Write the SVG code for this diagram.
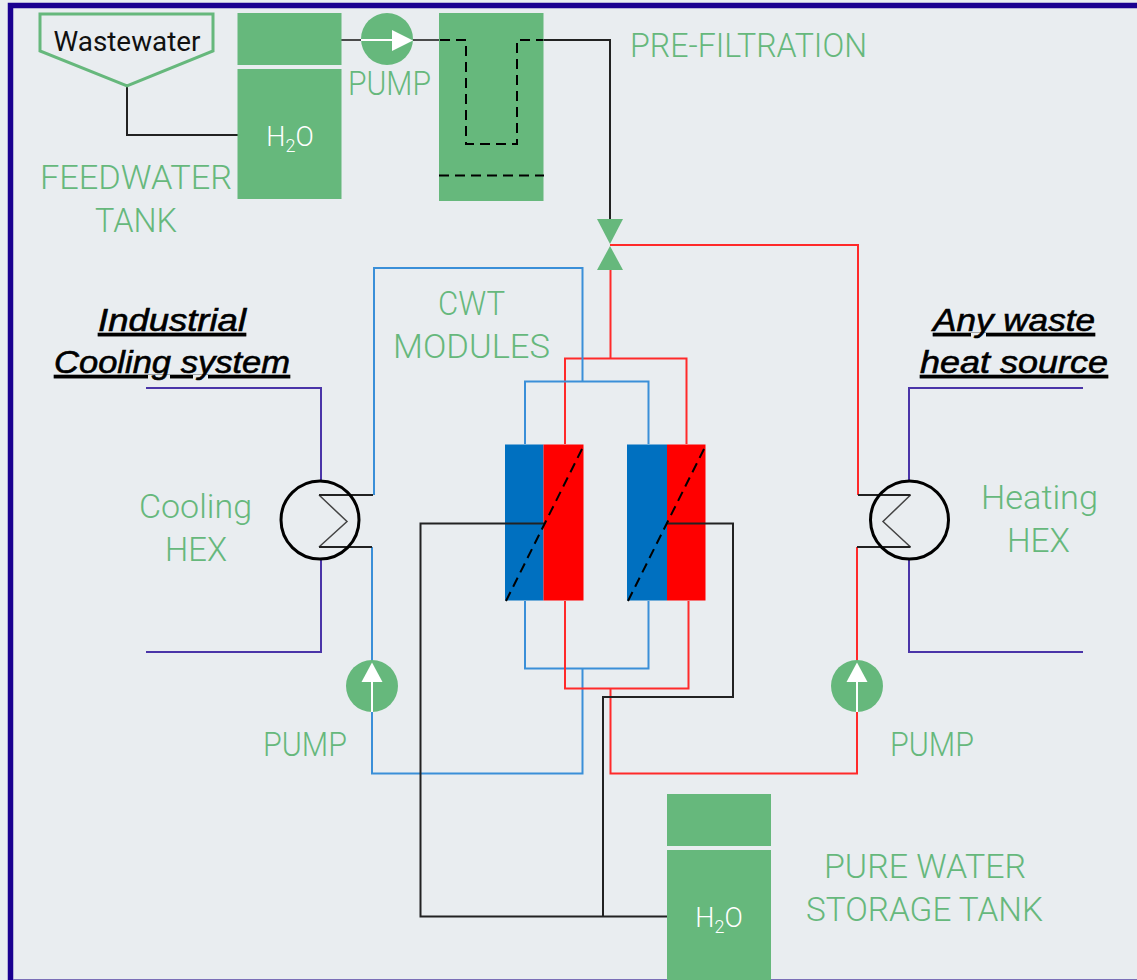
<svg xmlns="http://www.w3.org/2000/svg" width="1137" height="980" viewBox="0 0 1137 980">
<style>
.fill{fill:#66b87c}
.lbl{font-family:Roboto,"Liberation Sans",sans-serif;font-weight:300;font-size:33px;fill:#66b87c;text-anchor:middle}
.h2o{font-family:Roboto,"Liberation Sans",sans-serif;font-weight:300;font-size:27px;fill:#fff;text-anchor:middle}
.hd{font-family:"Liberation Sans",Arial,sans-serif;font-style:italic;font-size:31px;fill:#000;stroke:#000;stroke-width:.6;text-anchor:middle;text-decoration:underline}
.l{fill:none;stroke-width:2}
.k{stroke:#222}.b{stroke:#3a8fd8}.r{stroke:#ff2a2a}.p{stroke:#4a35a8}
.d{fill:none;stroke:#000;stroke-width:2;stroke-dasharray:10 6}
.hx{fill:none;stroke:#000;stroke-width:3}
.zz{fill:none;stroke:#444;stroke-width:1.500}
.w{stroke:#fff;stroke-width:2;fill:none}
.t{fill:#fff}
</style>
<rect width="1137" height="980" fill="#e9edf0"/>
<path d="M10.500 980V5.500H1137" fill="none" stroke="#1a0090" stroke-width="5.500"/>
<path d="M13 979.500H1137" fill="none" stroke="#7a6fb8" stroke-width="1"/>
<g id="module-1">
<rect x="505" y="444.500" width="38.500" height="156" fill="#0070c0"/>
<rect x="543.500" y="444.500" width="40" height="156" fill="#f00"/>
</g>
<g id="module-2">
<rect x="627" y="444.500" width="40" height="156" fill="#0070c0"/>
<rect x="667" y="444.500" width="38.500" height="156" fill="#f00"/>
</g>
<g id="connectors">
<path class="l k" d="M127 86V135H238"/>
<path class="l k" stroke-opacity=".8" d="M341 40H361M413 40H440"/>
<path class="l k" d="M543 40H610V220"/>
<path class="l r" d="M610 245H858V495"/>
<path class="l r" stroke-width="3" d="M610.500 270V358"/>
<path class="l r" d="M565 444V358.500H686.500V444"/>
<path class="l b" d="M582.500 381.500V268H374V495"/>
<path class="l b" d="M525 444V381.500H648.500V444"/>
<path class="l b" d="M525 601V668.500H648.500V601M582.500 668.500V773.500H372V712"/>
<path class="l r" d="M565 601V688.500H688.500V601"/>
<path class="l r" d="M610.500 688.500V773.500H857V712"/>
<path class="l b" d="M372 547V661"/>
<path class="l r" d="M857 547V661"/>
<path class="l p" d="M146 388H321V481M321 559V652H146"/>
<path class="l p" d="M1083 388H909V481M909 559V652H1083"/>
<path class="l k" d="M544 523.500H420.500V916.500H667"/>
<path class="l k" d="M666 523.500H733V697H603V916"/>
</g>
<g id="module-dashes">
<path class="d" stroke-dasharray="8 7" d="M506 601L584 445"/>
<path class="d" stroke-dasharray="8 7" d="M628 601L706 445"/>
</g>
<g id="wastewater">
<path d="M40 14H213V51L127 86L40 51Z" fill="none" stroke="#66b87c" stroke-width="3"/>
<text x="127" y="51" font-family="Roboto,'Liberation Sans',sans-serif" font-size="28" fill="#111" text-anchor="middle" textLength="147" lengthAdjust="spacingAndGlyphs">Wastewater</text>
</g>
<g id="feedwater-tank">
<rect class="fill" x="237.500" y="13" width="104" height="52"/>
<rect class="fill" x="237.500" y="69" width="104" height="130"/>
<text class="h2o" x="290" y="146">H<tspan font-size="18" dy="6">2</tspan><tspan dy="-6">O</tspan></text>
<text class="lbl" x="136" y="189" textLength="192" lengthAdjust="spacingAndGlyphs">FEEDWATER</text>
<text class="lbl" x="136" y="232" textLength="82" lengthAdjust="spacingAndGlyphs">TANK</text>
</g>
<g id="top-pump">
<circle class="fill" cx="387" cy="39" r="26"/>
<path class="w" d="M361 40H393"/>
<path class="t" d="M392 30L413 40.500L392 51Z"/>
<text class="lbl" x="389.500" y="95" textLength="83" lengthAdjust="spacingAndGlyphs">PUMP</text>
</g>
<g id="pre-filtration">
<rect class="fill" x="439" y="13" width="104.500" height="188"/>
<path class="d" d="M440 40H466V144H517V40H543"/>
<path class="d" d="M439 175.500H544"/>
<text class="lbl" x="748.500" y="57" textLength="237" lengthAdjust="spacingAndGlyphs">PRE-FILTRATION</text>
</g>
<g id="valve">
<path class="fill" d="M597 219H623L610 244Z"/>
<path class="fill" d="M597 270H623L610 246Z"/>
</g>
<g id="cwt-label">
<text class="lbl" x="471.500" y="315" textLength="67" lengthAdjust="spacingAndGlyphs">CWT</text>
<text class="lbl" x="471.500" y="358" textLength="157" lengthAdjust="spacingAndGlyphs">MODULES</text>
</g>
<g id="cooling-hex">
<path class="zz" d="M319 495L347 521.500L319 547"/>
<path class="l k" d="M319 495H373M319 547H372"/>
<circle class="hx" cx="320" cy="520" r="39"/>
<text class="lbl" x="195.500" y="518" textLength="113" lengthAdjust="spacingAndGlyphs">Cooling</text>
<text class="lbl" x="196" y="561" textLength="62" lengthAdjust="spacingAndGlyphs">HEX</text>
<text class="hd" x="172" y="331" textLength="148" lengthAdjust="spacingAndGlyphs">Industrial</text>
<text class="hd" x="172" y="373" textLength="236" lengthAdjust="spacingAndGlyphs">Cooling system</text>
</g>
<g id="heating-hex">
<path class="zz" d="M910.500 495L883 521.500L910.500 547"/>
<path class="l k" d="M858 495H910.500M857 547H910.500"/>
<circle class="hx" cx="909.500" cy="520" r="39"/>
<text class="lbl" x="1039.500" y="509" textLength="117" lengthAdjust="spacingAndGlyphs">Heating</text>
<text class="lbl" x="1038.500" y="552" textLength="63" lengthAdjust="spacingAndGlyphs">HEX</text>
<text class="hd" x="1014" y="331" textLength="162" lengthAdjust="spacingAndGlyphs">Any waste</text>
<text class="hd" x="1014" y="373" textLength="188" lengthAdjust="spacingAndGlyphs">heat source</text>
</g>
<g id="left-pump">
<circle class="fill" cx="372" cy="686" r="26"/>
<path class="w" d="M372 680V712"/>
<path class="t" d="M361.500 682L372 662.500L382.500 682Z"/>
<text class="lbl" x="305" y="756" textLength="84" lengthAdjust="spacingAndGlyphs">PUMP</text>
</g>
<g id="right-pump">
<circle class="fill" cx="857" cy="686" r="26"/>
<path class="w" d="M857 680V712"/>
<path class="t" d="M846.500 682L857 662.500L867.500 682Z"/>
<text class="lbl" x="932" y="756" textLength="84" lengthAdjust="spacingAndGlyphs">PUMP</text>
</g>
<g id="storage-tank">
<rect class="fill" x="667" y="794" width="104" height="52"/>
<rect class="fill" x="667" y="850" width="104" height="130"/>
<text class="h2o" x="719" y="927">H<tspan font-size="18" dy="6">2</tspan><tspan dy="-6">O</tspan></text>
<text class="lbl" x="925" y="878" textLength="202" lengthAdjust="spacingAndGlyphs">PURE WATER</text>
<text class="lbl" x="924.500" y="921" textLength="237" lengthAdjust="spacingAndGlyphs">STORAGE TANK</text>
</g>
</svg>
